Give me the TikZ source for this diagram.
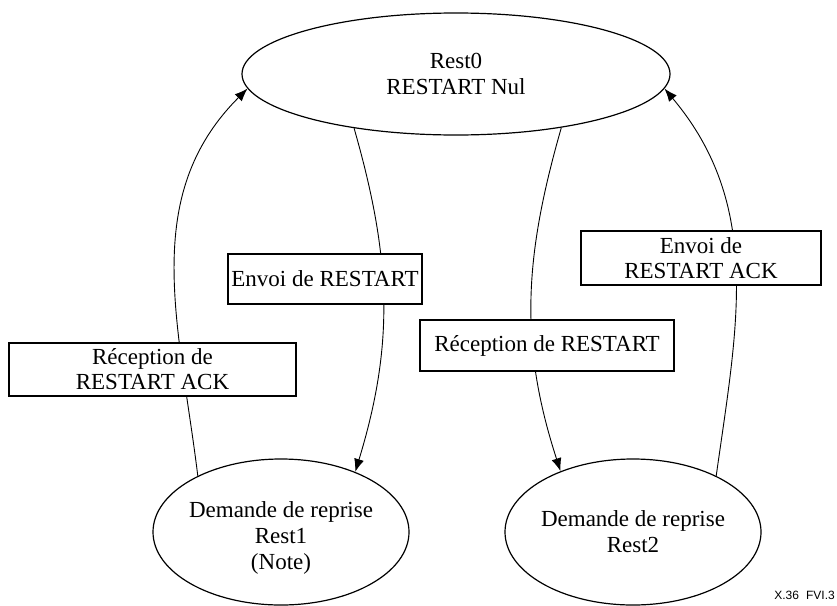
\documentclass[tikz,border=0pt]{standalone}
\usepackage{fontspec}
\setmainfont{Liberation Serif}
\newfontfamily\figfont{Liberation Sans}
\usetikzlibrary{shapes.geometric, arrows.meta}

\begin{document}
\begin{tikzpicture}[x=1pt, y=1pt,
  state/.style={draw, line width=1.2pt, ellipse, inner ysep=0pt, inner xsep=-6pt, align=center, font=\fontsize{23}{26}\selectfont},
  event/.style={draw, line width=1.2pt, fill=white, inner sep=0pt, align=center, font=\fontsize{23}{25}\selectfont},
  trans/.style={-{Latex[length=13pt, width=10pt]}, line width=0.9pt}]
\useasboundingbox (0,0) rectangle (837,-605);
% states
\node[state, minimum width=428pt, minimum height=122pt] (rest0) at (456,-74) {Rest0\\RESTART Nul};
\node[state, minimum width=256pt, minimum height=146pt, text height=74pt, text depth=0pt] (rest1) at (281,-532) {Demande de reprise\\Rest1\\(Note)};
\node[state, minimum width=256pt, minimum height=146pt] (rest2) at (633,-532) {Demande de reprise\\Rest2};
% transitions
\draw[trans] (rest1.146) to[out=97, in=225] (rest0.184);
\draw[trans] (rest0.208) to[out=286, in=73] (rest1.39);
\draw[trans] (rest0.333) to[out=254, in=108] (rest2.140);
\draw[trans] (rest2.34) to[out=82, in=310] (rest0.356);
% events
\node[event, minimum width=194pt, minimum height=50pt] (envoi) at (325,-279) {Envoi de RESTART};
\node[event, minimum width=287pt, minimum height=53pt] (recepack) at (152.5,-369.5) {Réception de\\RESTART ACK};
\node[event, minimum width=254pt, minimum height=51pt] (recep) at (547,-345.5) {Réception de RESTART};
\node[event, minimum width=240pt, minimum height=54pt] (envoiack) at (701,-258) {Envoi de\\RESTART ACK};
\node[anchor=base east, inner sep=0pt, font=\figfont\fontsize{12}{14}\selectfont] (fig) at (835,-599) {X.36\hspace{0.6em}FVI.3};
\end{tikzpicture}
\end{document}
